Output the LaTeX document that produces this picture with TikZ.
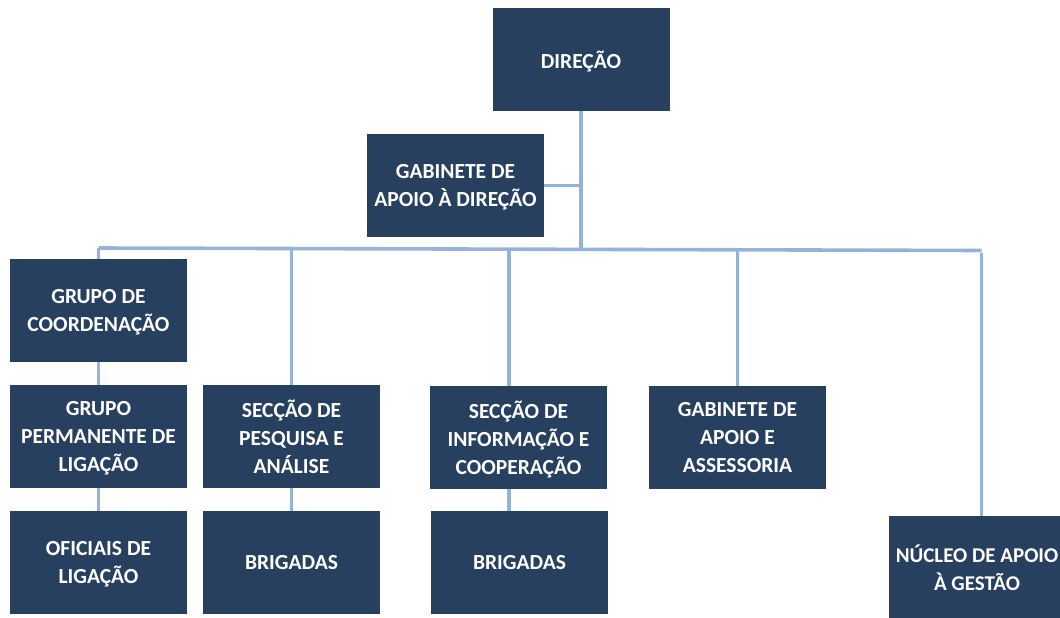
\documentclass[tikz,border=0pt]{standalone}
\usepackage{fontspec}
\setmainfont{Carlito}
\definecolor{navy}{RGB}{39,64,96}
\definecolor{linkblue}{RGB}{149,179,215}
\begin{document}
\begin{tikzpicture}[x=1pt, y=-1pt,
	unit/.style={fill=navy, text=white, font=\fontsize{21.5}{28}\selectfont\bfseries,
		align=center, minimum width=177pt, minimum height=103pt, inner sep=0pt, text depth=0pt},
	link/.style={draw=linkblue, line width=3.6pt}]
	\clip (0,0) rectangle (1060,618);
	% boxes
	\node[unit] (dir) at (581,59.5) {DIREÇÃO};
	\node[unit] (gad) at (455.5,185.5) {GABINETE DE\\APOIO À DIREÇÃO};
	\node[unit] (gcoord) at (98.5,310.5) {GRUPO DE\\COORDENAÇÃO};
	\node[unit] (gperm) at (98.5,436.5) {GRUPO\\PERMANENTE DE\\LIGAÇÃO};
	\node[unit] (ofic) at (98.5,562.5) {OFICIAIS DE\\LIGAÇÃO};
	\node[unit] (spa) at (291.5,436.5) {SECÇÃO DE\\PESQUISA E\\ANÁLISE};
	\node[unit] (brig1) at (291.5,562.5) {BRIGADAS};
	\node[unit] (sic) at (518.5,437.5) {SECÇÃO DE\\INFORMAÇÃO E\\COOPERAÇÃO};
	\node[unit] (brig2) at (519.5,562.5) {BRIGADAS};
	\node[unit] (gaa) at (737.5,437.5) {GABINETE DE\\APOIO E\\ASSESSORIA};
	\node[unit, font=\fontsize{21}{28}\selectfont\bfseries] (nag) at (977,567.5) {NÚCLEO DE APOIO\\À GESTÃO};
	% bus
	\coordinate (busL) at (98.5,248);
	\coordinate (busR) at (981.5,250.5);
	\draw[link] (busL) -- (busR);
	\draw[link] (dir.south) -- (dir.south |- busR);
	\draw[link] (gad.east) -- (gad.east -| dir.south);
	% drops from the bus
	\draw[link] (gcoord.north) -- (gcoord.north |- busL);
	\draw[link] (spa.north) -- (spa.north |- busL);
	\draw[link] ([xshift=-9.5pt]sic.north) -- ([xshift=-9.5pt]sic.north |- busL);
	\draw[link] (gaa.north) -- (gaa.north |- busR);
	\draw[link] ([xshift=4.5pt]nag.north) -- ([yshift=-2pt]busR);
	% lower links
	\draw[link] (gcoord.south) -- (gperm.north);
	\draw[link] (gperm.south) -- (ofic.north);
	\draw[link] (spa.south) -- (brig1.north);
	\draw[link] ([xshift=-9.5pt]sic.south) -- ([xshift=-10.5pt]brig2.north);
\end{tikzpicture}
\end{document}
